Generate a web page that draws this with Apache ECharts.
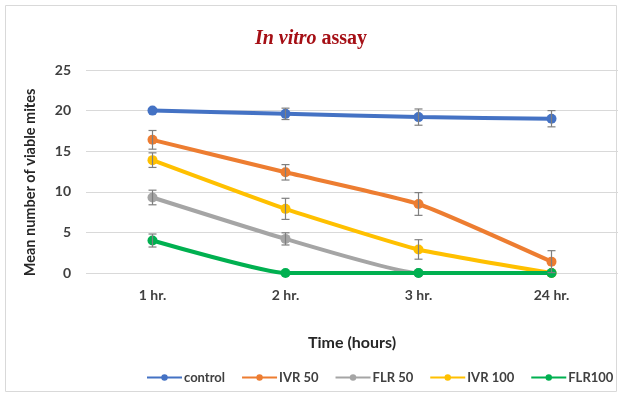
<!DOCTYPE html>
<html><head><meta charset="utf-8">
<script src="https://cdn.jsdelivr.net/npm/echarts@6/dist/echarts.min.js"></script>
<style>html,body{margin:0;padding:0;background:#fff}#c{width:622px;height:397px}</style>
</head><body><div id="c"></div>
<script>
const categories = ['1 hr.', '2 hr.', '3 hr.', '24 hr.'];
const seriesNames = ['control', 'IVR 50', 'FLR 50', 'IVR 100', 'FLR100'];
const control = [20.0, 19.6, 19.2, 19.0];
const ivr50 = [16.4, 12.4, 8.5, 1.4];
const flr50 = [9.3, 4.2, 0, 0];
const ivr100 = [13.9, 7.9, 2.9, 0];
const flr100 = [4.0, 0, 0, 0];
const controlErr = [0, 0.7, 1.0, 1.0];
const ivr50Err = [1.15, 0.95, 1.4, 1.35];
const flr50Err = [0.9, 0.75, 0, 0];
const ivr100Err = [0.9, 1.3, 1.2, 0];
const flr100Err = [0.8, 0, 0, 0];
const yTicks = [0, 5, 10, 15, 20, 25];

const values = [control, ivr50, flr50, ivr100, flr100];
const errors = [controlErr, ivr50Err, flr50Err, ivr100Err, flr100Err];
const colors = ['#4472C4', '#ED7D31', '#A5A5A5', '#FFC000', '#00B050'];
const font = 'Lato, "Open Sans", sans-serif';

const chart = echarts.init(document.getElementById('c'), null, {renderer: 'canvas'});
const series = [];
values.forEach((v, i) => {
  series.push({
    name: seriesNames[i], type: 'line', data: v, smooth: 0.15,
    symbol: 'circle', symbolSize: 10,
    lineStyle: {width: 4, color: colors[i]},
    itemStyle: {color: colors[i]}, z: 3 + i
  });
});
values.forEach((v, i) => {
  const data = v.map((y, k) => [k, y, errors[i][k]]).filter(d => d[2] > 0);
  series.push({
    type: 'custom', data: data, z: 20,
    renderItem: function (params, api) {
      const x = api.value(0), y = api.value(1), e = api.value(2);
      const hi = api.coord([x, y + e]);
      const lo = api.coord([x, y - e]);
      const w = 4;
      const st = {stroke: '#7f7f7f', lineWidth: 1.2};
      return {type: 'group', children: [
        {type: 'line', shape: {x1: hi[0], y1: hi[1], x2: lo[0], y2: lo[1]}, style: st},
        {type: 'line', shape: {x1: hi[0] - w, y1: hi[1], x2: hi[0] + w, y2: hi[1]}, style: st},
        {type: 'line', shape: {x1: lo[0] - w, y1: lo[1], x2: lo[0] + w, y2: lo[1]}, style: st}
      ]};
    },
    silent: true
  });
});

chart.setOption({
  animation: false,
  graphic: [{type: 'rect', shape: {x: 5.5, y: 5.5, width: 611, height: 386}, style: {fill: 'none', stroke: '#d9d9d9', lineWidth: 1}, silent: true}],
  title: {
    text: '{i|In vitro} {n|assay}', left: 'center', top: 24,
    textStyle: {rich: {
      i: {fontFamily: '"Liberation Serif", serif', fontStyle: 'italic', fontWeight: 'bold', fontSize: 20, color: '#A50F15'},
      n: {fontFamily: '"Liberation Serif", serif', fontWeight: 'bold', fontSize: 20, color: '#A50F15'}
    }}
  },
  legend: {
    data: seriesNames, top: 371, left: 146, width: 476, itemWidth: 35, itemHeight: 8, itemGap: 16,
    padding: 0,
    textStyle: {fontFamily: font, fontWeight: 'bold', fontSize: 13, color: '#404040', padding: [0, 0, 0, -3]}
  },
  grid: {left: 86, right: 4, top: 70, bottom: 124},
  xAxis: {
    type: 'category', data: categories, boundaryGap: true,
    axisLine: {show: false}, axisTick: {show: false},
    axisLabel: {fontFamily: font, fontWeight: 'bold', fontSize: 14, color: '#404040', margin: 15},
    name: 'Time (hours)', nameLocation: 'middle', nameGap: 62,
    nameTextStyle: {fontFamily: font, fontWeight: 'bold', fontSize: 16, color: '#262626'}
  },
  yAxis: {
    type: 'value', min: 0, max: 25, interval: 5,
    axisLine: {show: false}, axisTick: {show: false},
    axisLabel: {fontFamily: font, fontWeight: 'bold', fontSize: 14, color: '#404040', margin: 15,
      formatter: v => yTicks.includes(v) ? String(v) : ''},
    splitLine: {lineStyle: {color: '#d9d9d9', width: 1}},
    name: 'Mean number of viable mites', nameLocation: 'middle', nameGap: 48,
    nameTextStyle: {fontFamily: font, fontWeight: 'bold', fontSize: 14.5, color: '#262626', padding: [0, 22, 0, 0]}
  },
  series: series
});
</script></body></html>
